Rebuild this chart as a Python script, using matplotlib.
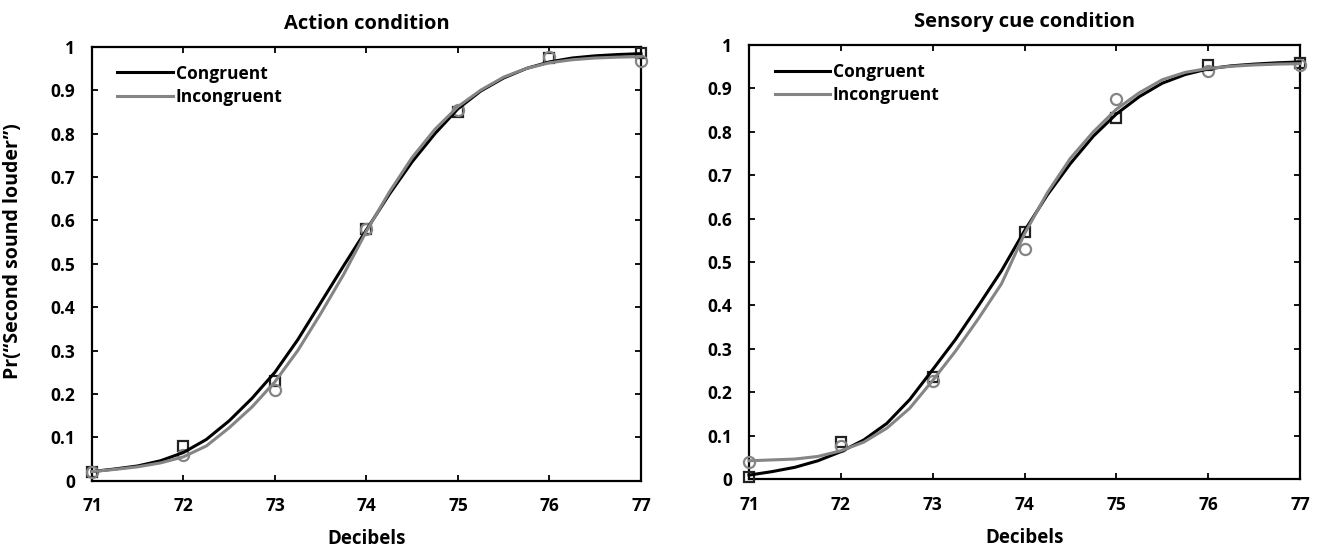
import matplotlib
matplotlib.use("Agg")
import matplotlib.pyplot as plt

plt.rcParams['font.family'] = ['Open Sans', 'DejaVu Sans']

# data points (decibels and proportion "second louder")
db = [71, 72, 73, 74, 75, 76, 77]
action_cong = [0.02, 0.08, 0.23, 0.58, 0.85, 0.975, 0.985]
action_incong = [0.02, 0.06, 0.21, 0.58, 0.855, 0.977, 0.968]
sensory_cong = [0.005, 0.085, 0.235, 0.57, 0.831, 0.954, 0.959]
sensory_incong = [0.04, 0.077, 0.225, 0.529, 0.875, 0.941, 0.954]

# fitted curves, every 0.25 dB
fit_db = [71, 71.25, 71.5, 71.75, 72, 72.25, 72.5, 72.75, 73, 73.25, 73.5,
          73.75, 74, 74.25, 74.5, 74.75, 75, 75.25, 75.5, 75.75, 76, 76.25,
          76.5, 76.75, 77]
action_cong_fit = [0.021, 0.027, 0.034, 0.046, 0.065, 0.095, 0.138, 0.19,
                   0.25, 0.325, 0.41, 0.495, 0.578, 0.66, 0.735, 0.80, 0.857,
                   0.898, 0.928, 0.950, 0.965, 0.974, 0.979, 0.982, 0.984]
action_incong_fit = [0.021, 0.026, 0.032, 0.041, 0.055, 0.08, 0.122, 0.17,
                     0.228, 0.30, 0.385, 0.475, 0.575, 0.665, 0.745, 0.81,
                     0.862, 0.90, 0.93, 0.95, 0.963, 0.970, 0.974, 0.976,
                     0.977]
sensory_cong_fit = [0.009, 0.017, 0.027, 0.042, 0.063, 0.09, 0.128, 0.183,
                    0.252, 0.322, 0.40, 0.48, 0.572, 0.655, 0.727, 0.79,
                    0.841, 0.881, 0.912, 0.932, 0.945, 0.952, 0.956, 0.959,
                    0.961]
sensory_incong_fit = [0.042, 0.044, 0.046, 0.052, 0.065, 0.085, 0.117, 0.163,
                      0.227, 0.295, 0.37, 0.45, 0.565, 0.66, 0.739, 0.80,
                      0.852, 0.89, 0.92, 0.937, 0.946, 0.951, 0.954, 0.956,
                      0.957]

yticks = [0, 0.1, 0.2, 0.3, 0.4, 0.5, 0.6, 0.7, 0.8, 0.9, 1]
ytick_labels = ['0', '0.1', '0.2', '0.3', '0.4', '0.5', '0.6', '0.7', '0.8',
                '0.9', '1']

GRAY = '#858585'
FW = 'bold'


def draw_panel(ax, title, cong, incong, cong_fit, incong_fit):
    ax.plot(db, cong, linestyle='none', marker='s', markersize=7,
            markerfacecolor='none', markeredgecolor='#222222', mew=1.6,
            clip_on=False, zorder=3)
    ax.plot(db, incong, linestyle='none', marker='o', markersize=8,
            markerfacecolor='none', markeredgecolor=GRAY, mew=1.6,
            clip_on=False, zorder=3)
    ax.plot(fit_db, cong_fit, color='black', lw=2.2, label='Congruent',
            zorder=4, clip_on=False)
    ax.plot(fit_db, incong_fit, color=GRAY, lw=2.2, label='Incongruent',
            zorder=4, clip_on=False)
    ax.set_xlim(71, 77)
    ax.set_ylim(0, 1)
    ax.set_xticks(db)
    ax.set_xticklabels([str(d) for d in db], fontsize=12.5, fontweight=FW)
    ax.set_yticks(yticks)
    ax.set_yticklabels(ytick_labels, fontsize=12.5, fontweight=FW)
    ax.tick_params(direction='in', top=True, right=True, length=4,
                   width=1.3, pad=12)
    for sp in ax.spines.values():
        sp.set_linewidth(1.6)
    ax.set_title(title, fontsize=14.5, fontweight=FW, pad=13)
    ax.set_xlabel('Decibels', fontsize=13.5, fontweight=FW, labelpad=10)
    leg = ax.legend(loc='upper left', bbox_to_anchor=(0.018, 0.995),
                    frameon=False, handlelength=3.2, handletextpad=0.15,
                    labelspacing=0.3, prop={'size': 12.5, 'weight': FW})
    return leg


fig = plt.figure(figsize=(13.21, 5.47), dpi=100)
ax1 = fig.add_axes([0.0696, 0.1212, 0.4156, 0.7934])
ax2 = fig.add_axes([0.567, 0.1243, 0.4171, 0.7934])

draw_panel(ax1, 'Action condition', action_cong, action_incong,
           action_cong_fit, action_incong_fit)
draw_panel(ax2, 'Sensory cue condition', sensory_cong, sensory_incong,
           sensory_cong_fit, sensory_incong_fit)
ax1.set_ylabel('Pr(\u201cSecond sound louder\u201d)', fontsize=14,
               fontweight=FW)
ax1.yaxis.set_label_coords(-0.125, 0.53)

fig.savefig('out.png', dpi=100)
